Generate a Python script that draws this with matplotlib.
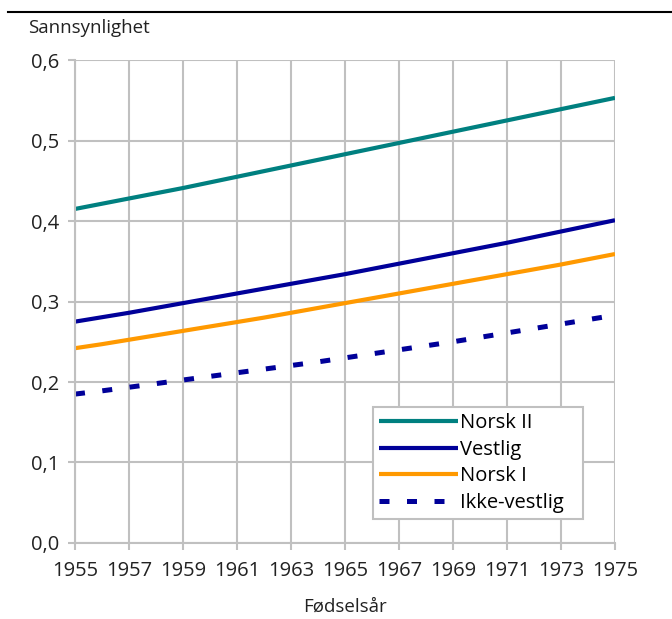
import matplotlib.pyplot as plt
from matplotlib.ticker import FuncFormatter
from matplotlib.lines import Line2D

plt.rcParams['font.family'] = ['Open Sans', 'DejaVu Sans']

years = list(range(1955, 1976))
norsk_ii = [0.415, 0.4215, 0.428, 0.4345, 0.441, 0.448, 0.455, 0.462, 0.469, 0.476, 0.483,
            0.490, 0.497, 0.504, 0.511, 0.518, 0.525, 0.532, 0.539, 0.546, 0.553]
vestlig = [0.275, 0.2805, 0.286, 0.292, 0.298, 0.304, 0.310, 0.316, 0.322, 0.328, 0.334,
           0.3405, 0.347, 0.3535, 0.360, 0.3665, 0.373, 0.380, 0.387, 0.394, 0.401]
norsk_i = [0.242, 0.247, 0.2525, 0.258, 0.2635, 0.269, 0.2745, 0.280, 0.286, 0.292, 0.298,
           0.304, 0.310, 0.316, 0.322, 0.328, 0.334, 0.340, 0.346, 0.3525, 0.359]
ikke_vestlig = [0.185, 0.189, 0.1935, 0.198, 0.2025, 0.207, 0.2115, 0.216, 0.2205, 0.225,
                0.230, 0.235, 0.240, 0.245, 0.250, 0.2555, 0.261, 0.2665, 0.272, 0.2775,
                0.283]

grid_col = '#c0c0c0'
txt_col = '#222222'

fig = plt.figure(figsize=(6.72, 6.19), dpi=100)
ax = fig.add_axes([0.1116, 0.1228, 0.8036, 0.7802])

ax.plot(years, norsk_ii, color='#008080', lw=3, label='Norsk II', solid_capstyle='butt')
ax.plot(years, vestlig, color='#000099', lw=3, label='Vestlig', solid_capstyle='butt')
ax.plot(years, norsk_i, color='#ff9900', lw=3, label='Norsk I', solid_capstyle='butt')
ax.plot(years, ikke_vestlig, color='#000099', lw=3.6, dashes=(2.0, 3.5),
        label='Ikke-vestlig', dash_capstyle='butt')

ax.set_xlim(1955, 1975)
ax.set_ylim(0, 0.6)
ax.set_xticks(range(1955, 1976, 2))
ax.set_yticks([0, 0.1, 0.2, 0.3, 0.4, 0.5, 0.6])
ax.yaxis.set_major_formatter(FuncFormatter(lambda v, p: f'{v:.1f}'.replace('.', ',')))
ax.grid(True, color=grid_col, lw=1.5)
ax.set_axisbelow(True)
for s in ['top', 'right']:
    ax.spines[s].set_visible(False)
for s in ['left', 'bottom']:
    ax.spines[s].set_color(grid_col)
    ax.spines[s].set_linewidth(1.5)
ax.tick_params(axis='both', colors=grid_col, length=5, width=1.5, labelcolor=txt_col,
               labelsize=14.5)
ax.tick_params(axis='y', pad=6)
ax.tick_params(axis='x', pad=8)

ax.set_xlabel('Fødselsår', fontsize=13.5, color=txt_col, labelpad=12)
fig.text(0.042, 0.955, 'Sannsynlighet', fontsize=13.5, color=txt_col, va='center')

fig.add_artist(Line2D([0.012, 1.0], [0.981, 0.981], color='black', lw=1.5))

leg = ax.legend(loc='lower left', bbox_to_anchor=(0.552, 0.05, 0.388, 0.25), mode='expand',
                fontsize=14.5, handlelength=3.9, handletextpad=0.1, borderpad=0.3,
                labelspacing=0.32, fancybox=False, framealpha=1, edgecolor=grid_col,
                borderaxespad=0)
leg.get_frame().set_linewidth(1.5)

fig.savefig('out.png', dpi=100)
